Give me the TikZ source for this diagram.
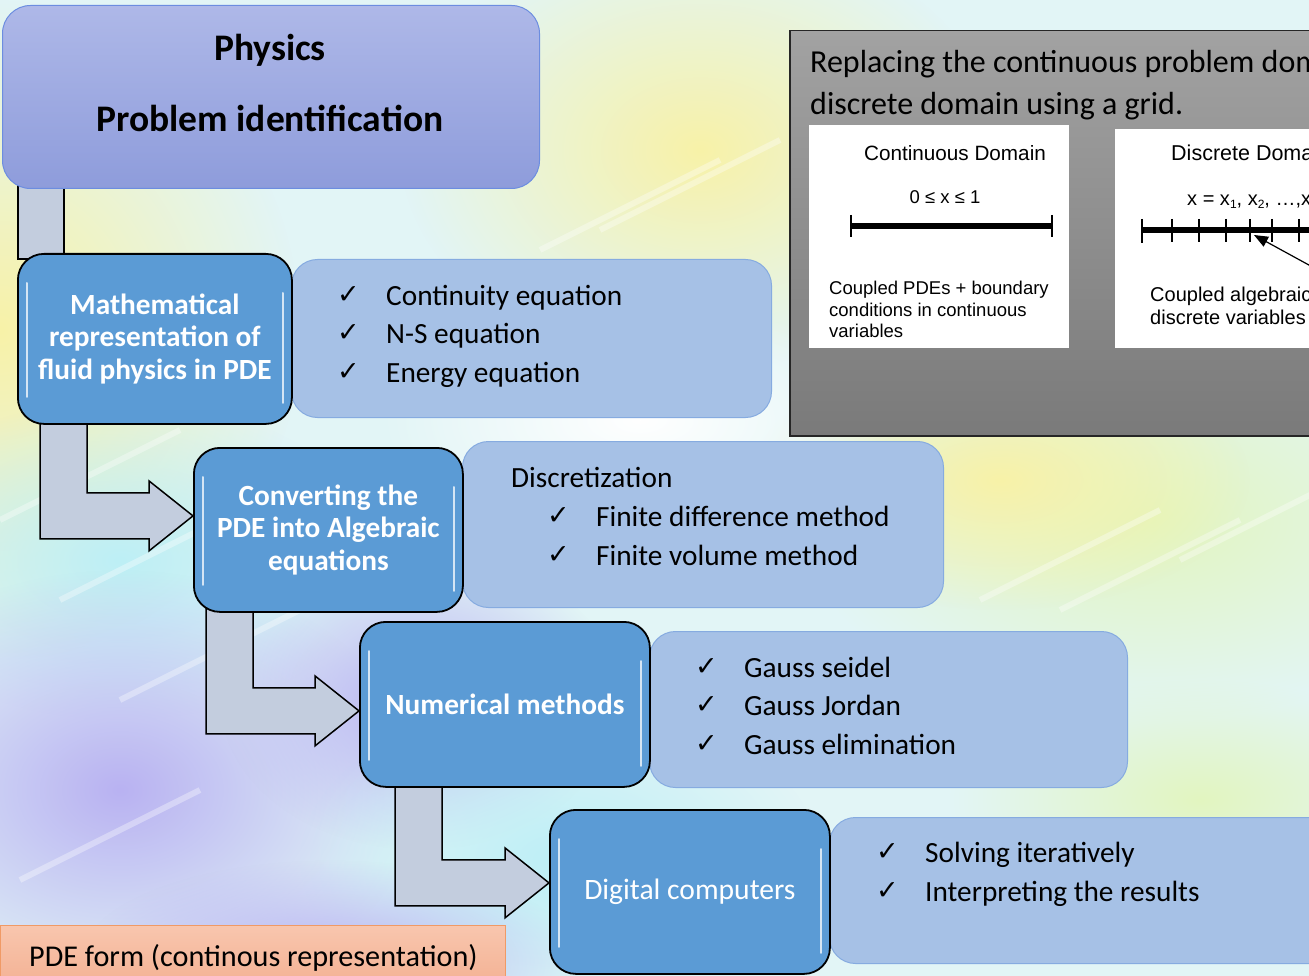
\documentclass[tikz,border=0pt]{standalone}
\usepackage{fontspec}
\setmainfont{Carlito}
\newfontfamily\arialf{Liberation Sans}
\newfontfamily\djv{DejaVu Sans}
\usetikzlibrary{calc,fadings,arrows.meta}
\definecolor{boxblue}{HTML}{5B9BD5}
\definecolor{listblue}{HTML}{A6C1E6}
\definecolor{listline}{HTML}{86ABE0}
\definecolor{phystop}{HTML}{AEB8E8}
\definecolor{physbot}{HTML}{8E9CDB}
\definecolor{physline}{HTML}{6C8DE0}
\definecolor{barfill}{HTML}{C3CDDE}
\definecolor{graytop}{HTML}{A2A2A2}
\definecolor{graybot}{HTML}{7A7A7A}
\definecolor{pdetop}{HTML}{F8C6AE}
\definecolor{pdebot}{HTML}{F3AE8F}
\definecolor{pdeline}{HTML}{F09A66}
\definecolor{bgbase}{HTML}{E2F5F6}
\definecolor{bgyellow}{HTML}{F8F2A8}
\definecolor{bglav}{HTML}{B9B2F2}
\definecolor{bgcyan}{HTML}{BDEFF6}
\definecolor{bggreen}{HTML}{E2F6C0}
\tikzfading[name=blob, inner color=transparent!0, outer color=transparent!100]
\pgfdeclarelayer{bg}
\pgfdeclarelayer{arr}
\pgfsetlayers{bg,arr,main}
\newcommand\subx[1]{\raisebox{-3pt}{\fontsize{12}{12}\selectfont #1}}
\newcommand\bentarrow[4]{%
  \draw[bar] let \p1=(#1.south west), \p2=($(#2.west)+(0,#4)$) in
  (\x1+#3pt,\y1+6pt) -- (\x1+#3pt,\y2-23pt) -- (\x2-44pt,\y2-23pt) -- (\x2-44pt,\y2-35pt)
  -- (\x2,\y2) -- (\x2-44pt,\y2+35pt) -- (\x2-44pt,\y2+23pt) -- (\x1+#3pt+47pt,\y2+23pt)
  -- (\x1+#3pt+47pt,\y1+6pt) -- cycle;}
\newcommand\glossy[1]{%
  \draw[gloss] ($(#1.north west)+(10,30)$) -- ($(#1.south west)+(10,-28)$);
  \draw[gloss] ($(#1.north east)+(-10,40)$) -- ($(#1.south east)+(-10,-22)$);}
\tikzset{
  stepbox/.style={draw=black, line width=1.8pt, rounded corners=26pt, fill=boxblue, text=white,
    inner sep=0pt, anchor=north west, align=center, font=\fontsize{29.3}{32.5}\selectfont\bfseries},
  listbox/.style={draw=listline, line width=1pt, rounded corners=26pt, fill=listblue,
    inner sep=0pt, anchor=north west},
  bar/.style={draw=black, line width=1.5pt, fill=barfill, line join=miter},
  chk/.style={anchor=mid west, inner sep=0pt, font=\djv\fontsize{27}{27}\selectfont},
  ltxt/.style={anchor=mid west, inner sep=0pt, font=\fontsize{29.3}{34}\selectfont},
  gloss/.style={white, line width=2pt, line cap=round, opacity=0.75},
  ar/.style={font=\arialf\fontsize{18.5}{21.5}\selectfont, inner sep=0pt},
  arb/.style={font=\arialf\fontsize{20}{23}\selectfont, inner sep=0pt},
  whitebox/.style={fill=white, inner sep=0pt, anchor=north west},
}
\begin{document}
\begin{tikzpicture}[x=1pt,y=-1pt]
\useasboundingbox (0,0) rectangle (1309,976);

% ---------- background ----------
\begin{pgfonlayer}{bg}
\fill[bgbase] (0,0) rectangle (1309,976);
\fill[bgyellow, path fading=blob] (0,330) ellipse [x radius=300pt, y radius=330pt];
\fill[bgyellow, path fading=blob] (700,150) ellipse [x radius=300pt, y radius=220pt];
\fill[bggreen, path fading=blob] (1150,520) ellipse [x radius=350pt, y radius=200pt];
\fill[bgyellow, path fading=blob] (1000,480) ellipse [x radius=250pt, y radius=130pt];
\fill[bgcyan, path fading=blob] (120,560) ellipse [x radius=260pt, y radius=160pt];
\fill[bglav, path fading=blob] (120,790) ellipse [x radius=300pt, y radius=220pt];
\fill[bglav, path fading=blob] (420,700) ellipse [x radius=200pt, y radius=150pt];
\fill[bgcyan, path fading=blob] (560,860) ellipse [x radius=260pt, y radius=160pt];
\fill[bglav, path fading=blob] (330,960) ellipse [x radius=250pt, y radius=100pt];
\fill[bggreen, path fading=blob] (1200,800) ellipse [x radius=250pt, y radius=120pt];
\fill[white, path fading=blob] (640,420) ellipse [x radius=260pt, y radius=120pt];
\foreach \a/\b in {0/520, 60/600, 540/250, 600/230, 980/600, 1060/610, 1180/560, 120/700, 20/880}
  \draw[white, line width=6pt, opacity=0.35] (\a,\b) -- ++(180,-90);
\end{pgfonlayer}

% ---------- physics box ----------
\node[draw=physline, line width=1pt, rounded corners=28pt, top color=phystop, bottom color=physbot,
  minimum width=537pt, minimum height=183pt, anchor=north west, inner sep=0pt] (phys) at (2,5) {};
\node[anchor=mid, font=\fontsize{37.5}{42}\selectfont\bfseries] (physt) at (270,58) {Physics};
\node[anchor=mid, font=\fontsize{37.5}{42}\selectfont\bfseries] (probt) at (270,129) {Problem identification};

% ---------- list boxes ----------
\node[listbox, minimum width=480pt, minimum height=158pt] (l1) at (291,259) {};
\node[listbox, minimum width=481pt, minimum height=166pt] (l2) at (462,441) {};
\node[listbox, minimum width=478pt, minimum height=156pt] (l3) at (649,631) {};
\node[listbox, minimum width=520pt, minimum height=146pt] (l4) at (829,817) {};

% ---------- step boxes ----------
\node[stepbox, minimum width=274pt, minimum height=170pt] (math) at (17,253)
  {Mathematical\\representation of\\fluid physics in PDE};
\node[stepbox, minimum width=269pt, minimum height=164pt] (conv) at (193,447)
  {Converting the\\PDE into Algebraic\\equations};
\node[stepbox, minimum width=290pt, minimum height=165pt] (num) at (359,621)
  {Numerical methods};
\node[stepbox, minimum width=280pt, minimum height=164pt, font=\fontsize{29.6}{34}\selectfont] (dig) at (549,809)
  {Digital computers};
\glossy{math}
\glossy{conv}
\glossy{num}
\glossy{dig}

% ---------- connectors ----------
\begin{pgfonlayer}{arr}
\draw[bar] let \p1=(phys.south west), \p2=(math.north) in
  (\x1+16pt,\y1+4pt) rectangle (\x1+62pt,\y2-6pt);
\bentarrow{math}{conv}{23}{-14}
\bentarrow{conv}{num}{13}{6.5}
\bentarrow{num}{dig}{36}{-9}
\end{pgfonlayer}

% ---------- list texts ----------
\node[chk] (c11) at (337,301) {✓};
\node[ltxt] (t11) at (386,303) {Continuity equation};
\node[chk] (c12) at (337,339) {✓};
\node[ltxt] (t12) at (386,341) {N-S equation};
\node[chk] (c13) at (337,378) {✓};
\node[ltxt] (t13) at (386,380) {Energy equation};

\node[ltxt] (t20) at (511,485) {Discretization};
\node[chk] (c21) at (547,522) {✓};
\node[ltxt] (t21) at (596,524) {Finite difference method};
\node[chk] (c22) at (547,561) {✓};
\node[ltxt] (t22) at (596,563) {Finite volume method};

\node[chk] (c31) at (695,673) {✓};
\node[ltxt] (t31) at (744,675) {Gauss seidel};
\node[chk] (c32) at (695,711) {✓};
\node[ltxt] (t32) at (744,713) {Gauss Jordan};
\node[chk] (c33) at (695,750) {✓};
\node[ltxt] (t33) at (744,752) {Gauss elimination};

\node[chk] (c41) at (876,858) {✓};
\node[ltxt] (t41) at (925,860) {Solving iteratively};
\node[chk] (c42) at (876,897) {✓};
\node[ltxt] (t42) at (925,899) {Interpreting the results};

% ---------- PDE form box ----------
\node[draw=pdeline, line width=1pt, top color=pdetop, bottom color=pdebot,
  minimum width=505pt, minimum height=70pt, anchor=north west, inner sep=0pt] (pde) at (0,925) {};
\node[ltxt, font=\fontsize{30.2}{34}\selectfont] (pdet) at (29,964) {PDE form (continous representation)};

% ---------- inset panel ----------
\begin{scope}
\clip (0,0) rectangle (1309,976);
\node[draw=black!85, line width=1.5pt, top color=graytop, bottom color=graybot,
  minimum width=540pt, minimum height=405pt, anchor=north west, inner sep=0pt] (panel) at (789,30) {};
\node[anchor=base west, inner sep=0pt, font=\fontsize{32}{40}\selectfont] (rep1) at (810,73)
  {Replacing the continuous problem domain};
\node[anchor=base west, inner sep=0pt, font=\fontsize{32}{40}\selectfont] (rep2) at (810,115)
  {discrete domain using a grid.};

\node[whitebox, minimum width=260pt, minimum height=223pt] (cd) at (809,125) {};
\node[ar, anchor=mid, font=\arialf\fontsize{20.7}{24}\selectfont] (cdt) at (955,158) {Continuous Domain};
\node[ar, anchor=mid] (cdr) at (945,201) {0 ≤ x ≤ 1};
\draw[line width=6pt] (851,226) -- (1052,226);
\draw[line width=2pt] (851,215) -- (851,237);
\draw[line width=2pt] (1052,215) -- (1052,237);
\node[ar, anchor=north west, align=left] (cdc) at (829,281)
  {Coupled PDEs + boundary\\conditions in continuous\\variables};

\node[whitebox, minimum width=230pt, minimum height=219pt] (dd) at (1115,129) {};
\node[arb, anchor=mid west, font=\arialf\fontsize{21.5}{24}\selectfont] (ddt) at (1171,158) {Discrete Domain};
\node[arb, anchor=mid west] (ddx) at (1187,203) {x = x\subx{1}, x\subx{2}, \ldots,x\subx{N}};
\draw[line width=6pt] (1141,230) -- (1340,230);
\draw[line width=2pt] (1142,219) -- (1142,243);
\foreach \t in {1172,1199,1226,1250,1272,1299}
  \draw[line width=1.5pt] (\t,219) -- (\t,242);
\coordinate (arrs) at (1318,270);
\coordinate (arre) at (1254,235);
\draw[line width=1.2pt, -{Triangle[length=14pt,width=11pt]}] (arrs) -- (arre);
\node[arb, anchor=north west, align=left] (ddc) at (1150,287)
  {Coupled algebraic\\discrete variables};
\end{scope}
\end{tikzpicture}
\end{document}
